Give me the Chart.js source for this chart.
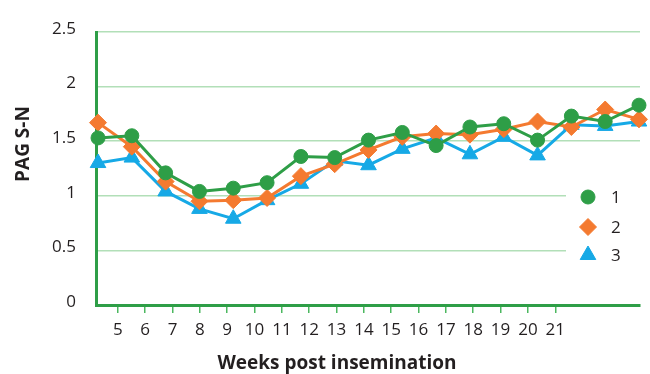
<!DOCTYPE html>
<html>
<head>
<meta charset="utf-8">
<script src="https://cdn.jsdelivr.net/npm/chart.js@4/dist/chart.umd.min.js"></script>
<style>
html, body { margin: 0; padding: 0; background: #fff; }
#wrap { width: 650px; height: 374px; position: relative; }
</style>
</head>
<body>
<div id="wrap"><canvas id="chart"></canvas></div>
<script>
// sampling points (17 per group), the week labels under the axis don't line up with them
const samples = [1, 2, 3, 4, 5, 6, 7, 8, 9, 10, 11, 12, 13, 14, 15, 16, 17]
const weekTicks = [5, 6, 7, 8, 9, 10, 11, 12, 13, 14, 15, 16, 17, 18, 19, 20, 21]
const yTicks = [0, 0.5, 1, 1.5, 2, 2.5]
const groupNames = ['1', '2', '3']

const group1 = [1.53, 1.55, 1.21, 1.04, 1.07, 1.12, 1.36, 1.35, 1.51, 1.58, 1.46, 1.63, 1.66, 1.51, 1.73, 1.68, 1.83]
const group2 = [1.67, 1.45, 1.13, 0.95, 0.96, 0.98, 1.18, 1.29, 1.42, 1.54, 1.57, 1.56, 1.61, 1.68, 1.63, 1.79, 1.70]
const group3 = [1.30, 1.35, 1.04, 0.88, 0.79, 0.96, 1.11, 1.32, 1.28, 1.43, 1.53, 1.38, 1.54, 1.37, 1.65, 1.64, 1.68]

const green = '#2e9e47'
const orange = '#f47a30'
const blue = '#16a9e6'
const gridGreen = '#b2dfb8'
const textCol = '#231f20'
const baseFont = "'Open Sans', sans-serif"

function toPoints(arr) {
    return arr.map((v, i) => ({ x: i, y: v }))
}

const styles = [
    { color: green, pointStyle: 'circle', radius: 7 },
    { color: orange, pointStyle: 'rectRot', radius: 8.5 },
    { color: blue, pointStyle: 'triangle', radius: 9 }
]
const series = [group1, group2, group3]

let datasets = series.map((s, i) => ({
    label: groupNames[i],
    data: toPoints(s),
    xAxisID: 'x',
    borderColor: styles[i].color,
    backgroundColor: styles[i].color,
    borderWidth: 3,
    pointStyle: styles[i].pointStyle,
    pointRadius: styles[i].radius,
    pointBorderWidth: 1,
    tension: 0,
    clip: false
}))

// legend, axis titles and the white box behind the legend
const extras = {
    id: 'extras',
    beforeDatasetsDraw(chart) {
        const c = chart.ctx
        c.save()
        c.fillStyle = '#fff'
        c.fillRect(566, 175, 80, 95)
        c.restore()
    },
    afterDraw(chart) {
        const c = chart.ctx
        c.save()
        // legend
        const ly = [197, 227, 255]
        styles.forEach((st, i) => {
            c.fillStyle = st.color
            c.strokeStyle = st.color
            c.lineWidth = 1
            Chart.helpers.drawPoint(c, { pointStyle: st.pointStyle, radius: st.radius, rotation: 0, borderWidth: 1 }, 588, ly[i])
            c.fillStyle = textCol
            c.font = "17px " + baseFont
            c.textAlign = 'left'
            c.textBaseline = 'middle'
            c.fillText(groupNames[i], 611, ly[i] + 1)
        })
        // axis titles
        c.fillStyle = textCol
        c.font = "bold 19px " + baseFont
        c.textAlign = 'center'
        c.textBaseline = 'middle'
        c.fillText('Weeks post insemination', 337, 364)
        c.translate(24, 144)
        c.rotate(-Math.PI / 2)
        c.fillText('PAG S-N', 0, 0)
        c.restore()
    }
}

new Chart(document.getElementById('chart'), {
    type: 'line',
    data: { datasets: datasets },
    options: {
        responsive: true,
        maintainAspectRatio: false,
        animation: false,
        layout: { padding: { top: 32, right: 8, left: 0, bottom: 0 } },
        plugins: {
            legend: { display: false },
            tooltip: { enabled: false }
        },
        scales: {
            x: {
                type: 'linear',
                display: false,
                min: -0.06,
                max: 16.03
            },
            x2: {
                type: 'linear',
                position: 'bottom',
                min: 4.2,
                max: 24.1,
                afterBuildTicks: s => { s.ticks = weekTicks.map(v => ({ value: v })) },
                afterFit: s => { s.height = 69 },
                grid: { drawOnChartArea: false, drawTicks: true, tickLength: 8, color: '#4cb860', lineWidth: 1.5 },
                border: { color: green, width: 3 },
                ticks: {
                    padding: 7,
                    autoSkip: false,
                    maxRotation: 0,
                    color: textCol,
                    font: { family: baseFont, size: 17 },
                    callback: v => String(v)
                }
            },
            y: {
                min: 0,
                max: 2.5,
                afterBuildTicks: s => { s.ticks = yTicks.map(v => ({ value: v })) },
                afterFit: s => { s.width = 96 },
                grid: { color: gridGreen, lineWidth: 1.5, drawTicks: false },
                border: { color: green, width: 3 },
                ticks: {
                    padding: 20,
                    labelOffset: -3,
                    color: textCol,
                    font: { family: baseFont, size: 17 },
                    callback: v => String(v)
                }
            }
        }
    },
    plugins: [extras]
})
</script>
</body>
</html>
